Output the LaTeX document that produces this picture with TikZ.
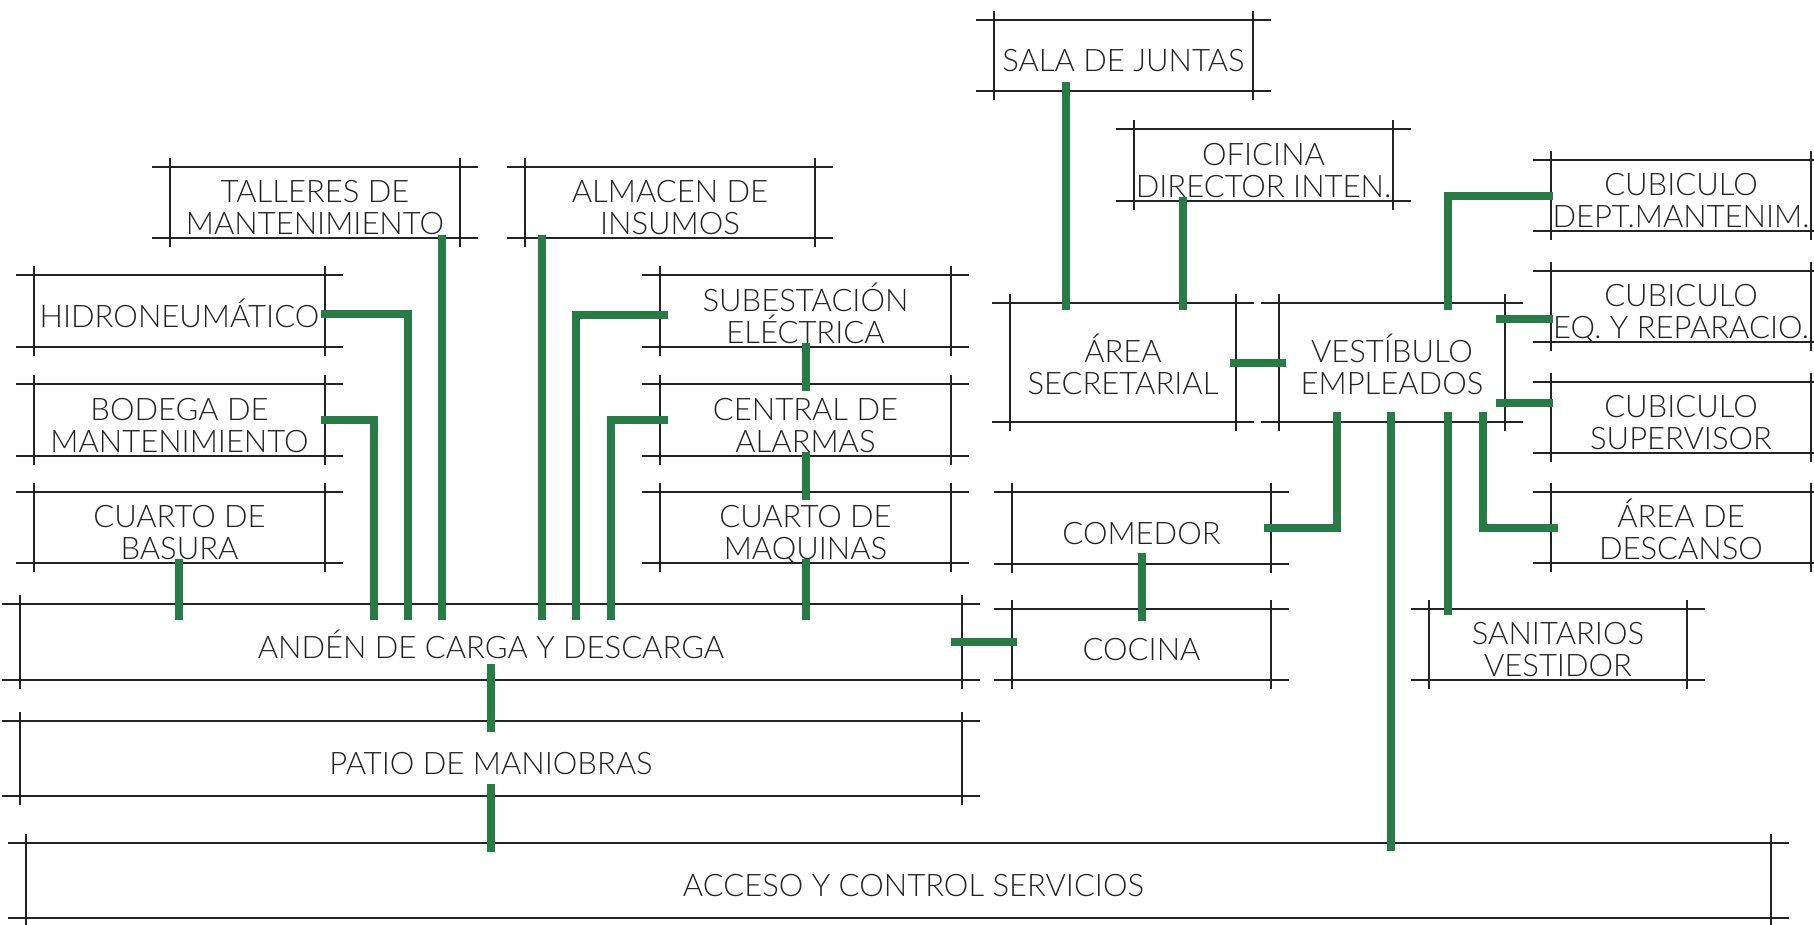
\documentclass[tikz,border=0pt]{standalone}
\usepackage{fontspec}
\setmainfont{Lato Light}
\usetikzlibrary{calc}
\definecolor{linkgreen}{RGB}{42,122,72}
\definecolor{ink}{RGB}{35,35,35}
\tikzset{
  roomline/.style={draw=ink, line width=2pt},
  roombox/.style={rectangle, inner sep=0pt, outer sep=0pt},
  roomtext/.style={inner sep=0pt, align=center, text=ink,
    font=\fontsize{31}{32}\selectfont},
  link/.style={draw=linkgreen, line width=8pt},
}
\newcommand\room[6]{%
  \node[roombox, minimum width={(#4)-(#2)}, minimum height={(#5)-(#3)}] (#1)
    at ({((#2)+(#4))/2},{((#3)+(#5))/2}) {};
  \node[roomtext] (#1-label) at ([yshift=-5pt]#1.center)
    {\rule{0pt}{29pt}#6\rule[-7pt]{0pt}{7pt}};
  \draw[roomline] ([xshift=-18pt]#1.north west) -- ([xshift=18pt]#1.north east);
  \draw[roomline] ([xshift=-18pt]#1.south west) -- ([xshift=18pt]#1.south east);
  \draw[roomline] ([yshift=9pt]#1.north west) -- ([yshift=-9pt]#1.south west);
  \draw[roomline] ([yshift=9pt]#1.north east) -- ([yshift=-9pt]#1.south east);
}
\begin{document}
\begin{tikzpicture}[x=1pt, y=-1pt]
\useasboundingbox (0,0) rectangle (1814,924);
% rooms
\room{sala}{994}{20}{1253}{91}{SALA DE JUNTAS}
\room{oficina}{1134}{129}{1393}{201}{OFICINA\\DIRECTOR INTEN.}
\room{talleres}{170}{167}{460}{238}{TALLERES DE\\MANTENIMIENTO}
\room{almacen}{525}{167}{815}{238}{ALMACEN DE\\INSUMOS}
\room{hidro}{34}{275}{325}{347}{HIDRONEUMÁTICO}
\room{bodega}{34}{384}{325}{456}{BODEGA DE\\MANTENIMIENTO}
\room{basura}{34}{492}{325}{563}{CUARTO DE\\BASURA}
\room{subest}{660}{275}{951}{347}{SUBESTACIÓN\\ELÉCTRICA}
\room{central}{660}{384}{951}{456}{CENTRAL DE\\ALARMAS}
\room{maq}{660}{492}{951}{563}{CUARTO DE\\MAQUINAS}
\room{anden}{20}{604}{962}{680}{ANDÉN DE CARGA Y DESCARGA}
\room{patio}{20}{721}{962}{796}{PATIO DE MANIOBRAS}
\room{acceso}{26}{843}{1771}{918}{\hspace*{30pt}ACCESO Y CONTROL SERVICIOS}
\room{area}{1010}{303}{1236}{422}{ÁREA\\SECRETARIAL}
\room{vest}{1279}{303}{1505}{422}{VESTÍBULO\\EMPLEADOS}
\room{comedor}{1012}{492}{1271}{564}{COMEDOR}
\room{cocina}{1012}{609}{1271}{680}{COCINA}
\room{sanit}{1429}{609}{1687}{680}{SANITARIOS\\VESTIDOR}
\room{cubdept}{1551}{160}{1811}{231}{CUBICULO\\DEPT.MANTENIM.}
\room{cubeq}{1551}{271}{1811}{342}{CUBICULO\\EQ. Y REPARACIO.}
\room{cubsup}{1551}{382}{1811}{453}{CUBICULO\\SUPERVISOR}
\room{descanso}{1551}{492}{1811}{563}{ÁREA DE\\DESCANSO}
% connectors
\draw[link, shorten <=-9pt, shorten >=-7pt] (1066,0 |- sala.south) -- (1066,0 |- area.north);
\draw[link, shorten <=-4pt, shorten >=-7pt] (1183,0 |- oficina.south) -- (1183,0 |- area.north);
\draw[link, shorten <=-6pt, shorten >=-7pt] (area.east) -- (vest.west);
\draw[link, shorten <=-7pt, shorten >=-2pt] (1448,0 |- vest.north) |- (cubdept.west);
\draw[link, shorten <=-9pt, shorten >=-2pt] (vest.east |- 0,319) -- (cubeq.west |- 0,319);
\draw[link, shorten <=-9pt, shorten >=-2pt] (vest.east |- 0,403) -- (cubsup.west |- 0,403);
\draw[link, shorten <=-10pt, shorten >=-7pt] (1337,0 |- vest.south) |- (comedor.east);
\draw[link, shorten <=-10pt, shorten >=-8pt] (1391,0 |- vest.south) -- (1391,0 |- acceso.north);
\draw[link, shorten <=-10pt, shorten >=-6pt] (1448,0 |- vest.south) -- (1448,0 |- sanit.north);
\draw[link, shorten <=-10pt, shorten >=-7pt] (1483,0 |- vest.south) |- (descanso.west);
\draw[link, shorten <=-11pt, shorten >=-12pt] (comedor.south) -- (cocina.north);
\draw[link, shorten <=-11pt, shorten >=-5pt] (anden.east) -- (cocina.west |- anden.east);
\draw[link, shorten <=-4pt, shorten >=-16pt] (179,0 |- basura.south) -- (179,0 |- anden.north);
\draw[link, shorten <=-4pt, shorten >=-16pt] (bodega.east) -| (374,0 |- anden.north);
\draw[link, shorten <=-4pt, shorten >=-16pt] (hidro.east |- 0,314) -| (408,0 |- anden.north);
\draw[link, shorten <=-3pt, shorten >=-16pt] (442,0 |- talleres.south) -- (442,0 |- anden.north);
\draw[link, shorten <=-3pt, shorten >=-16pt] (542,0 |- almacen.south) -- (542,0 |- anden.north);
\draw[link, shorten <=-8pt, shorten >=-16pt] (subest.west |- 0,315) -| (576,0 |- anden.north);
\draw[link, shorten <=-8pt, shorten >=-16pt] (central.west) -| (611,0 |- anden.north);
\draw[link, shorten <=-4pt, shorten >=-7pt] (subest.south) -- (central.north);
\draw[link, shorten <=-4pt, shorten >=-8pt] (central.south) -- (maq.north);
\draw[link, shorten <=-4pt, shorten >=-16pt] (maq.south) -- (maq.south |- anden.north);
\draw[link, shorten <=-16pt, shorten >=-11pt] (anden.south) -- (patio.north);
\draw[link, shorten <=-12pt, shorten >=-9pt] (patio.south) -- (acceso.north -| patio.south);
\end{tikzpicture}
\end{document}
